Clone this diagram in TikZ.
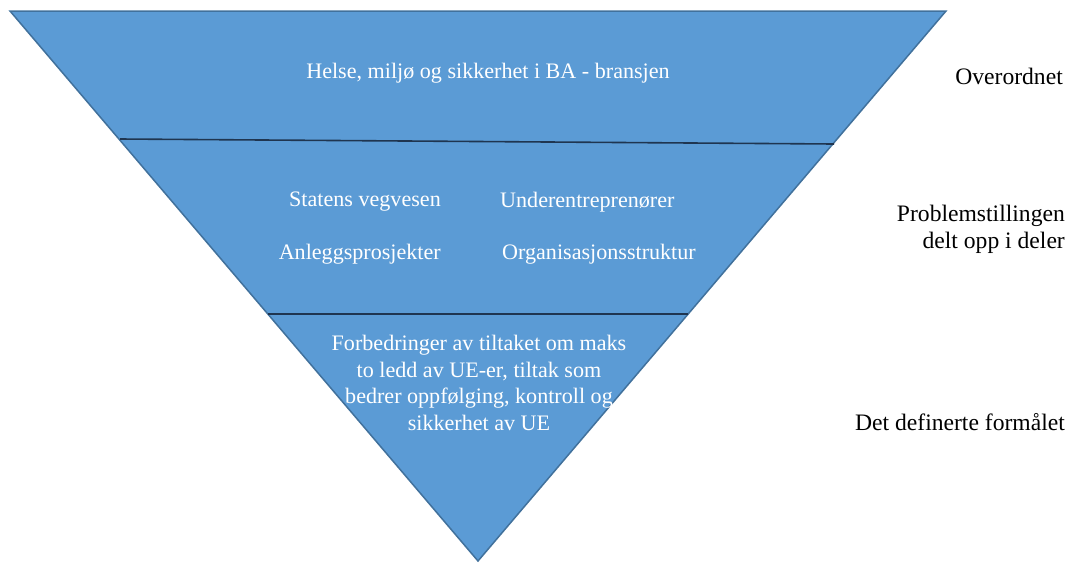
\documentclass[tikz,border=0pt]{standalone}
\usepackage{fontspec}
\setmainfont{Liberation Serif}
\usepackage{tikz}
\usetikzlibrary{positioning}
\definecolor{layerblue}{HTML}{5B9BD5}
\definecolor{layeredge}{HTML}{41719C}
\definecolor{divline}{HTML}{1F3550}
\tikzstyle{layer} = [fill=layerblue, draw=layeredge, line width=1.5pt, line join=miter]
\tikzstyle{divider} = [draw=divline, line width=1.6pt]
\tikzstyle{intext} = [text=white, font=\fontsize{22.1}{26.5}\selectfont, inner sep=0pt]
\tikzstyle{sidetext} = [text=black, font=\fontsize{23.6}{27}\selectfont, inner sep=0pt, align=right, anchor=east]

\begin{document}
\begin{tikzpicture}[x=1pt, y=-1pt]
\useasboundingbox (0,0) rectangle (1070,563);
\coordinate (top_left) at (10,11);
\coordinate (top_right) at (946,11);
\coordinate (apex) at (478,561);
\filldraw [layer] (top_left) -- (top_right) -- (apex) -- cycle;
\coordinate (d1_left) at (120,139);
\coordinate (d1_right) at (834,144);
\coordinate (d2_left) at (268,314);
\coordinate (d2_right) at (688,314);
\draw [divider] (d1_left) -- (d1_right);
\draw [divider] (d2_left) -- (d2_right);
% top layer
\node (hms) [intext] at (488,73) {Helse, miljø og sikkerhet i BA - bransjen};
% middle layer
\node (svv) [intext, anchor=east] at (441,202) {Statens vegvesen};
\node (ue) [intext, anchor=west] at (500,202) {Underentreprenører};
\node (anlegg) [intext, anchor=east] at (441,254) {Anleggsprosjekter};
\node (org) [intext, anchor=west] at (502,254) {Organisasjonsstruktur};
% bottom layer
\node (formaal) [intext, align=center] at (479,383) {Forbedringer av tiltaket om maks\\to ledd av UE-er, tiltak som\\bedrer oppfølging, kontroll og\\sikkerhet av UE};
% labels on the right
\node (overordnet) [sidetext] at (1063,76) {Overordnet};
\node (problem) [sidetext] at (1065,229) {Problemstillingen\\delt opp i deler};
\node (definert) [sidetext] at (1065,422) {Det definerte formålet};
\end{tikzpicture}
\end{document}
